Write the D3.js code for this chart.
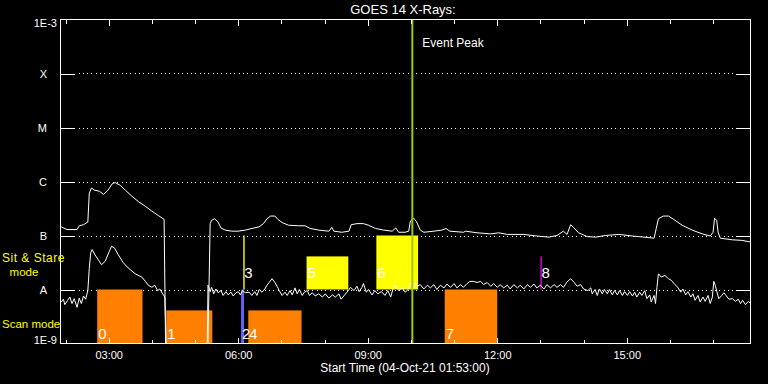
<!DOCTYPE html>
<html><head><meta charset="utf-8">
<script src="https://cdn.jsdelivr.net/npm/d3@7"></script>
<style>
html,body{margin:0;padding:0;background:#000;}
svg{display:block;}
text{font-family:"Liberation Sans",Arial,sans-serif;}
</style>
</head><body>
<svg id="c" width="768" height="384"></svg>
<script>
// ---------- data ----------
const startTime = "2021-10-04T01:53:00Z";
const endTime   = "2021-10-04T17:52:00Z";
const dayPrefix = "2021-10-04T";
const title = "GOES 14 X-Rays:";
const xAxisLabel = "Start Time (04-Oct-21 01:53:00)";
const peakTime = "10:02";
const peakLabel = "Event Peak";

const yTickValues = [1e-3, 1e-4, 1e-5, 1e-6, 1e-7, 1e-8, 1e-9];
const yTickLabels = ["1E-3", "X", "M", "C", "B", "A", "1E-9"];
const modeLabelStare = ["Sit & Stare", "mode"];
const modeLabelScan = "Scan mode";

// [minutes after start, log10 flux (W/m^2)]
const longChannel = [[1,-6.84],[9,-6.89],[23,-6.89],[26,-6.82],[32,-6.80],[38,-6.75],[40,-6.22],[43,-6.12],[47,-6.16],[54,-6.18],[60,-6.24],[66,-6.16],[72,-6.04],[76,-6.02],[83,-6.07],[90,-6.16],[99,-6.27],[108,-6.37],[118,-6.46],[127,-6.55],[136,-6.63],[144,-6.70],[146,-9.0],[205,-9.0],[208,-6.78],[210,-6.72],[214,-6.69],[219,-6.75],[223,-6.86],[229,-6.90],[238,-6.92],[247,-6.92],[257,-6.90],[266,-6.87],[276,-6.84],[282,-6.78],[287,-6.69],[292,-6.64],[298,-6.64],[302,-6.70],[308,-6.76],[317,-6.81],[331,-6.82],[340,-6.82],[347,-6.87],[359,-6.90],[373,-6.92],[377,-6.85],[380,-6.92],[391,-6.94],[401,-6.92],[404,-6.80],[412,-6.78],[421,-6.78],[428,-6.81],[438,-6.87],[449,-6.90],[461,-6.92],[466,-6.86],[470,-6.94],[479,-6.94],[484,-6.92],[486,-6.75],[489,-6.69],[491,-6.68],[495,-6.75],[500,-6.90],[505,-6.94],[519,-6.92],[530,-6.90],[536,-6.87],[541,-6.92],[560,-6.94],[563,-6.92],[579,-6.95],[598,-6.97],[609,-6.95],[621,-6.98],[644,-6.98],[662,-7.01],[679,-7.03],[690,-7.00],[699,-6.92],[704,-6.98],[709,-6.80],[713,-6.85],[720,-6.95],[732,-7.02],[744,-7.03],[757,-7.00],[776,-6.98],[795,-7.01],[811,-7.03],[825,-7.05],[828,-6.87],[831,-6.69],[838,-6.64],[845,-6.64],[852,-6.70],[864,-6.81],[878,-6.90],[892,-6.97],[903,-7.01],[907,-6.94],[909,-6.68],[912,-6.72],[914,-6.94],[917,-7.05],[934,-7.08],[947,-7.09],[959,-7.12]];

const shortChannel = [[1,-8.23],[4,-8.18],[6,-8.28],[10,-8.20],[13,-8.14],[16,-8.26],[19,-8.17],[23,-8.33],[26,-8.16],[29,-8.26],[32,-8.12],[35,-8.18],[38,-8.02],[40,-7.61],[42,-7.32],[44,-7.26],[48,-7.36],[53,-7.46],[57,-7.54],[62,-7.48],[67,-7.32],[71,-7.20],[75,-7.23],[80,-7.35],[87,-7.50],[94,-7.60],[104,-7.71],[113,-7.77],[118,-7.85],[122,-7.92],[127,-7.96],[131,-7.92],[135,-8.02],[138,-7.99],[142,-8.08],[145,-8.14],[147,-9.0],[204,-9.0],[205,-7.92],[208,-8.04],[210,-7.96],[213,-8.08],[216,-7.99],[219,-8.06],[223,-8.02],[226,-8.11],[230,-8.04],[233,-8.10],[237,-8.05],[240,-8.12],[244,-8.06],[247,-8.04],[250,-8.10],[253,-8.02],[257,-8.06],[262,-8.05],[266,-8.11],[270,-8.04],[273,-8.11],[276,-8.00],[280,-8.05],[284,-7.99],[287,-7.92],[290,-7.87],[294,-7.80],[298,-7.87],[301,-7.94],[304,-8.02],[308,-8.11],[312,-8.05],[315,-8.11],[319,-8.02],[322,-8.10],[326,-7.97],[329,-8.08],[332,-8.00],[336,-8.11],[339,-8.05],[343,-8.02],[346,-8.11],[350,-8.06],[354,-8.12],[359,-8.08],[364,-8.14],[368,-8.08],[373,-8.16],[378,-8.10],[382,-8.14],[387,-8.08],[390,-8.18],[395,-8.10],[400,-8.02],[403,-7.96],[408,-8.02],[412,-7.94],[415,-8.04],[419,-7.96],[421,-7.89],[425,-8.05],[428,-8.00],[433,-8.10],[437,-8.02],[441,-8.08],[446,-8.04],[451,-8.11],[455,-8.02],[459,-8.14],[462,-7.99],[465,-7.92],[470,-8.02],[475,-7.97],[479,-8.05],[484,-7.99],[487,-7.87],[490,-7.96],[493,-7.87],[496,-7.94],[500,-7.91],[505,-7.99],[510,-7.92],[514,-7.97],[519,-7.91],[523,-8.00],[528,-7.92],[533,-7.97],[537,-7.90],[542,-7.96],[547,-7.89],[551,-7.97],[556,-7.91],[560,-7.96],[565,-7.89],[569,-7.85],[574,-7.85],[579,-7.87],[584,-7.85],[588,-7.91],[593,-7.87],[598,-7.94],[602,-7.89],[607,-7.96],[611,-7.91],[616,-7.97],[621,-7.92],[625,-7.99],[630,-7.91],[635,-7.97],[639,-7.92],[644,-7.99],[649,-7.91],[653,-7.96],[658,-7.90],[662,-7.97],[667,-7.92],[672,-7.99],[676,-7.91],[681,-7.97],[686,-7.91],[690,-7.96],[695,-7.91],[699,-7.96],[704,-7.86],[709,-7.80],[714,-7.87],[718,-7.94],[723,-7.91],[727,-7.99],[733,-8.02],[737,-7.97],[739,-8.08],[743,-8.00],[746,-8.11],[749,-7.99],[753,-8.08],[756,-8.00],[760,-8.08],[763,-8.00],[767,-8.10],[770,-8.02],[774,-8.10],[777,-8.02],[781,-8.11],[784,-8.04],[788,-8.11],[791,-8.04],[795,-8.12],[798,-8.05],[801,-8.14],[805,-8.05],[808,-8.11],[812,-8.02],[815,-8.17],[819,-8.10],[821,-8.23],[825,-8.11],[827,-8.26],[829,-7.96],[831,-7.71],[835,-7.77],[840,-7.74],[845,-7.80],[849,-7.83],[854,-7.91],[858,-7.96],[862,-8.05],[865,-7.99],[869,-8.10],[872,-8.04],[876,-8.14],[879,-8.08],[882,-8.20],[886,-8.11],[889,-8.23],[893,-8.14],[896,-8.22],[900,-8.11],[903,-8.26],[906,-8.14],[908,-7.85],[910,-7.92],[913,-8.08],[915,-8.17],[919,-8.11],[922,-8.06],[925,-8.11],[929,-8.18],[934,-8.17],[938,-8.22],[942,-8.18],[945,-8.26],[948,-8.20],[952,-8.28],[956,-8.22],[959,-8.26]];

// observation events
const eventLabels = ["0","1","2","3","4","5","6","7","8"];
const eventStart  = ["02:44","04:20","06:04","06:07","06:14","07:35","09:12","10:47","13:00"];
const eventEnd    = ["03:47","05:24","06:08","06:07","07:28","08:33","10:10","12:00","13:00"];
const eventLow    = [1e-9, 1e-9, 1e-9, 1e-8, 1e-9, 1e-8, 1e-8, 1e-9, 1e-8];
const eventHigh   = [1e-8, 4.1e-9, 1e-8, 1e-7, 4.1e-9, 4.1e-8, 1e-7, 1e-8, 4.1e-8];
const eventType   = ["scan","scan","scanB","stare","scan","stare","stare","scan","stareB"];

// ---------- styles ----------
const typeColor = {scan:"#ff8000", scanB:"#6464ff", stare:"#ffff00", stareB:"#e000e0"};
const W = 768, H = 384;
const L = 60.5, R = 750.5, T = 19.5, B = 343.5;

const svg = d3.select("#c");
svg.append("rect").attr("width", W).attr("height", H).attr("fill", "#000");

const t0 = new Date(startTime);
const tAt = m => new Date(t0.getTime() + m * 60000);
const tClock = s => new Date(dayPrefix + s + ":00Z");

const x = d3.scaleUtc().domain([t0, new Date(endTime)]).range([L, R]);
const y = d3.scaleLog().domain([1e-9, 1e-3]).range([B, T]);

// clip
svg.append("clipPath").attr("id", "clip").append("rect")
  .attr("x", L).attr("y", T).attr("width", R - L).attr("height", B - T);

// gridlines (dotted)
const inner = yTickValues.slice(1, -1);
svg.append("g").selectAll("line").data(inner).join("line")
  .attr("x1", L + 18).attr("x2", R - 15)
  .attr("y1", d => Math.round(y(d)) + 0.5).attr("y2", d => Math.round(y(d)) + 0.5)
  .attr("stroke", "#fff").attr("stroke-width", 1)
  .attr("stroke-dasharray", "1,3.33").attr("shape-rendering", "crispEdges");

// events
const ev = eventLabels.map((lab, i) => ({
  lab, s: tClock(eventStart[i]), e: tClock(eventEnd[i]),
  lo: eventLow[i], hi: eventHigh[i], type: eventType[i]
}));
const gEv = svg.append("g").attr("clip-path", "url(#clip)");
gEv.selectAll("rect").data(ev).join("rect")
  .attr("x", d => x(d.s))
  .attr("width", d => Math.max(1.4, x(d.e) - x(d.s)))
  .attr("y", d => y(d.hi))
  .attr("height", d => y(d.lo) - y(d.hi))
  .attr("fill", d => typeColor[d.type]);

// curves
const line = d3.line().x(d => x(tAt(d[0]))).y(d => y(Math.pow(10, d[1])));
const gC = svg.append("g").attr("clip-path", "url(#clip)");
[longChannel, shortChannel].forEach(data => {
  gC.append("path").datum(data).attr("d", line)
    .attr("fill", "none").attr("stroke", "#fff").attr("stroke-width", 1)
    .attr("stroke-linejoin", "miter");
});

// event labels
svg.append("g").selectAll("text").data(ev).join("text")
  .attr("x", d => x(d.s) + 1)
  .attr("y", d => d.lo < 5e-9 ? y(1e-9) - 5 : y(1e-8) - 11.5)
  .attr("fill", "#fff").attr("font-size", 15)
  .text(d => d.lab);

// event peak line
const px = x(tClock(peakTime));
svg.append("line").attr("x1", px).attr("x2", px).attr("y1", T).attr("y2", B)
  .attr("stroke", "#99cc00").attr("stroke-width", 2);
svg.append("text").attr("x", px + 10).attr("y", 47)
  .attr("fill", "#fff").attr("font-size", 12).text(peakLabel);

// frame
svg.append("rect").attr("x", L).attr("y", T).attr("width", R - L).attr("height", B - T)
  .attr("fill", "none").attr("stroke", "#fff").attr("stroke-width", 1)
  .attr("shape-rendering", "crispEdges");

// x axes (ticks)
const hours = d3.utcHour.every(1), major = d3.utcHour.every(3);
function styleAxis(g) {
  g.select(".domain").remove();
  g.selectAll(".tick line").attr("stroke", "#fff").attr("shape-rendering", "crispEdges");
  g.selectAll(".tick text").attr("fill", "#fff").attr("font-size", 11)
    .attr("font-family", "Liberation Sans, Arial, sans-serif");
}
svg.append("g").attr("transform", `translate(0,${B})`)
  .call(d3.axisBottom(x).ticks(hours).tickSize(-4).tickFormat("")).call(styleAxis);
svg.append("g").attr("transform", `translate(0,${T})`)
  .call(d3.axisTop(x).ticks(hours).tickSize(-4).tickFormat("")).call(styleAxis);
svg.append("g").attr("transform", `translate(0,${B})`)
  .call(d3.axisBottom(x).ticks(major).tickSize(-6).tickPadding(8).tickFormat(d3.utcFormat("%H:%M")))
  .call(styleAxis);
svg.append("g").attr("transform", `translate(0,${T})`)
  .call(d3.axisTop(x).ticks(major).tickSize(-6).tickFormat("")).call(styleAxis);

// y axes (ticks)
svg.append("g").attr("transform", `translate(${L},0)`)
  .call(d3.axisLeft(y).tickValues(inner).tickSize(-14.5).tickFormat("")).call(styleAxis);
svg.append("g").attr("transform", `translate(${R},0)`)
  .call(d3.axisRight(y).tickValues(inner).tickSize(-14.5).tickFormat("")).call(styleAxis);

// y labels
svg.append("g").selectAll("text").data(yTickValues).join("text")
  .attr("x", (d, i) => (i === 0 || i === yTickValues.length - 1) ? 57 : 47)
  .attr("y", (d, i) => i === 0 ? y(d) + 7.5 : (i === yTickValues.length - 1 ? y(d) : y(d) + 4))
  .attr("text-anchor", "end").attr("fill", "#fff").attr("font-size", 11)
  .text((d, i) => yTickLabels[i]);

// mode labels
svg.append("text").attr("x", 2).attr("y", 262).attr("fill", "#ffff00").attr("font-size", 12)
  .attr("letter-spacing", 0.5).text(modeLabelStare[0]);
svg.append("text").attr("x", 24).attr("y", 276).attr("text-anchor", "middle").attr("fill", "#ffff00").attr("font-size", 11.5).text(modeLabelStare[1]);
svg.append("text").attr("x", 2).attr("y", 328).attr("fill", "#ffff00").attr("font-size", 11.5).text(modeLabelScan);

// title & x label
svg.append("text").attr("x", 403).attr("y", 14).attr("text-anchor", "middle")
  .attr("fill", "#fff").attr("font-size", 13).text(title);
svg.append("text").attr("x", 405).attr("y", 372).attr("text-anchor", "middle")
  .attr("fill", "#fff").attr("font-size", 12).text(xAxisLabel);
</script>
</body></html>
